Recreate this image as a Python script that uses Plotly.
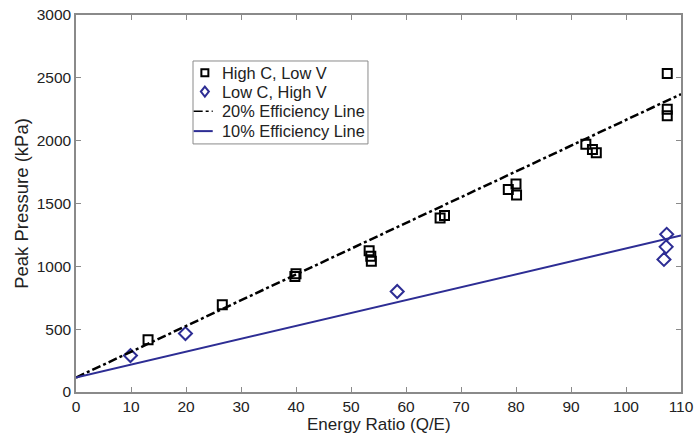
import plotly.graph_objects as go

# Measured peak pressure vs energy ratio
high_c_x = [13.1, 26.6, 39.8, 40.0, 53.3, 53.6, 53.7, 66.2, 67.0, 78.6, 80.0, 80.1, 92.7, 93.9, 94.6, 107.5, 107.5, 107.5]
high_c_y = [415, 695, 920, 940, 1125, 1080, 1040, 1385, 1405, 1612, 1655, 1568, 1972, 1930, 1903, 2535, 2250, 2198]

low_c_x = [9.9, 19.9, 58.4, 107.4, 107.3, 106.9]
low_c_y = [290, 465, 800, 1255, 1155, 1055]

# Efficiency reference lines (end points)
line_x = [0, 110]
eff20_y = [115, 2370]
eff10_y = [115, 1245]

series_names = ["High C, Low V", "Low C, High V", "20% Efficiency Line", "10% Efficiency Line"]
x_title = "Energy Ratio (Q/E)"
y_title = "Peak Pressure (kPa)"

navy = "#2d2d94"
font_family = "Liberation Sans, Arial, sans-serif"
text_color = "#222"
frame_color = "#8a8a8a"

fig = go.Figure()
fig.add_trace(go.Scatter(
    x=high_c_x, y=high_c_y, mode="markers", name=series_names[0],
    marker=dict(symbol="square-open", size=9, color="black", line=dict(width=2, color="black")),
))
fig.add_trace(go.Scatter(
    x=low_c_x, y=low_c_y, mode="markers", name=series_names[1],
    marker=dict(symbol="diamond-open", size=10, color=navy, line=dict(width=2, color=navy)),
))
fig.add_trace(go.Scatter(
    x=line_x, y=eff20_y, mode="lines", name=series_names[2],
    line=dict(color="black", width=2.5, dash="dashdot"),
))
fig.add_trace(go.Scatter(
    x=line_x, y=eff10_y, mode="lines", name=series_names[3],
    line=dict(color=navy, width=2),
))

axis_common = dict(
    showline=True, linecolor=frame_color, linewidth=1.5, mirror="ticks",
    ticks="inside", ticklen=5, tickcolor=frame_color, tickwidth=1,
    showgrid=False, zeroline=False, automargin=False,
    tickfont=dict(size=15.5, color=text_color, family=font_family),
)

fig.update_xaxes(
    range=[0, 110], tickmode="array", tickvals=list(range(0, 111, 10)),
    **axis_common,
)
fig.update_yaxes(
    range=[0, 3000], tickmode="array", tickvals=list(range(0, 3001, 500)),
    title=dict(text=y_title, font=dict(size=18.5, color=text_color, family=font_family), standoff=3),
    **axis_common,
)

# Compact boxed legend drawn in paper coordinates
box_x0, box_x1 = 0.1934, 0.4826
box_y0, box_y1 = 0.658, 0.878
row_y = [0.847, 0.797, 0.745, 0.692]
glyph_x = 0.213
line_x0, line_x1 = 0.1945, 0.226
text_x = 0.2385

shapes = [dict(type="rect", xref="paper", yref="paper", x0=box_x0, x1=box_x1, y0=box_y0, y1=box_y1,
               line=dict(color=frame_color, width=1), fillcolor="white", layer="above")]
# square glyph
shapes.append(dict(type="rect", xref="paper", yref="paper", xsizemode="pixel", ysizemode="pixel",
                   xanchor=glyph_x, yanchor=row_y[0], x0=-3.5, x1=3.5, y0=-3.5, y1=3.5,
                   line=dict(color="black", width=2), layer="above"))
# diamond glyph
shapes.append(dict(type="path", xref="paper", yref="paper", xsizemode="pixel", ysizemode="pixel",
                   xanchor=glyph_x, yanchor=row_y[1], path="M 0 5 L 4 0 L 0 -5 L -4 0 Z",
                   line=dict(color=navy, width=2), layer="above"))
# line glyphs
shapes.append(dict(type="line", xref="paper", yref="paper", x0=line_x0, x1=line_x1, y0=row_y[2], y1=row_y[2],
                   line=dict(color="black", width=1.5, dash="dashdot"), layer="above"))
shapes.append(dict(type="line", xref="paper", yref="paper", x0=line_x0, x1=line_x1, y0=row_y[3], y1=row_y[3],
                   line=dict(color=navy, width=2), layer="above"))

annotations = [
    dict(text=name, xref="paper", yref="paper", x=text_x, y=yy, xanchor="left", yanchor="middle",
         showarrow=False, font=dict(size=16.4, color=text_color, family=font_family))
    for name, yy in zip(series_names, row_y)
]
# x-axis title placed at the bottom edge of the figure
annotations.append(dict(
    text=x_title, xref="paper", yref="paper", x=0.5, y=-41 / 377, xanchor="center", yanchor="bottom",
    showarrow=False, yshift=-2, borderpad=0, font=dict(size=17, color=text_color, family=font_family),
))

fig.update_layout(
    width=694, height=433,
    margin=dict(l=76, r=13, t=15, b=41),
    paper_bgcolor="white", plot_bgcolor="white",
    showlegend=False,
    shapes=shapes,
    annotations=annotations,
    font=dict(family=font_family),
)

fig.write_html("out.html")
